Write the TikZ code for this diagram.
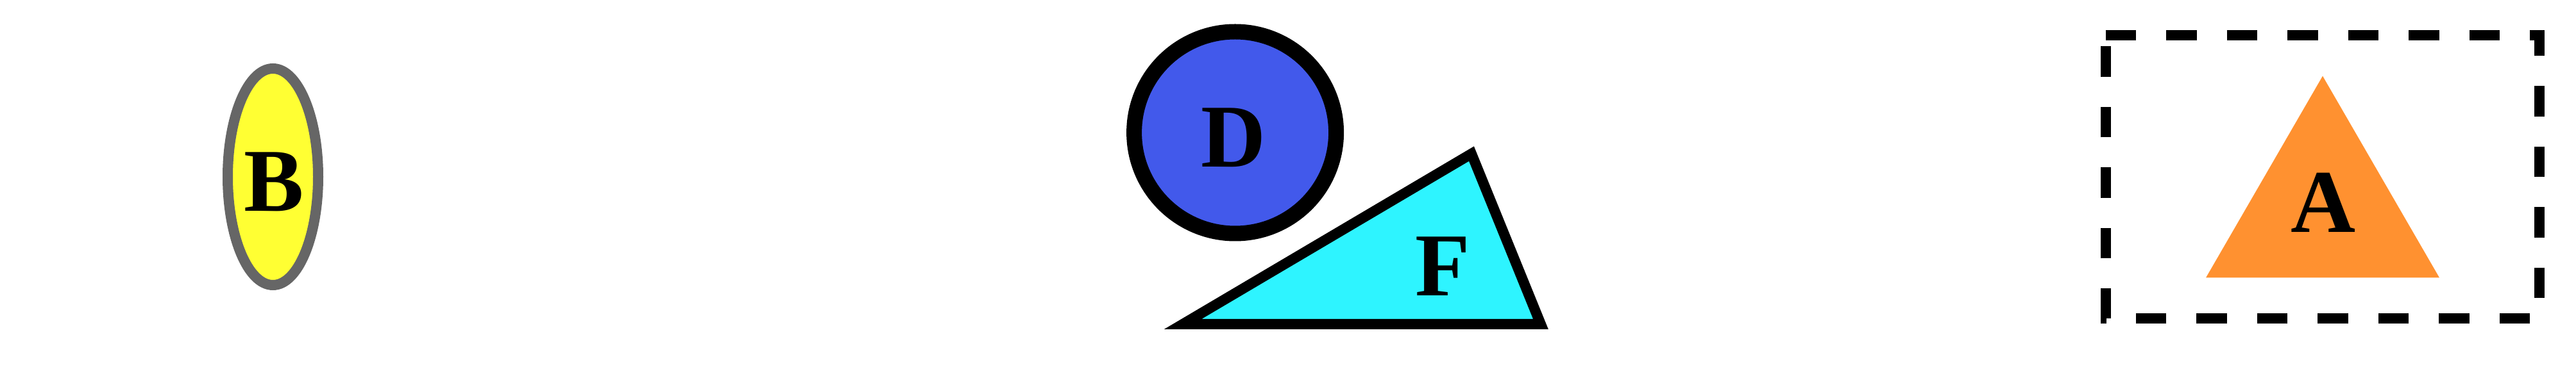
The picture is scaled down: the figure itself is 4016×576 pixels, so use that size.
\documentclass[tikz,border=0pt]{standalone}
\usepackage{fontspec}
\setmainfont{Liberation Serif}
\usetikzlibrary{shapes.geometric}
\definecolor{byellow}{RGB}{255,255,51}
\definecolor{bgray}{RGB}{102,102,102}
\definecolor{dblue}{RGB}{66,89,235}
\definecolor{fcyan}{RGB}{46,244,255}
\definecolor{aorange}{RGB}{255,145,48}
\begin{document}
\begin{tikzpicture}[x=0.25pt,y=-0.25pt,
  lbl/.style={inner sep=0pt, anchor=base, font=\fontsize{35}{42}\selectfont\bfseries},
  ellB/.style={ellipse, draw=bgray, fill=byellow, line width=4pt, inner sep=0pt, minimum width=35.25pt, minimum height=84.5pt},
  circD/.style={circle, draw=black, fill=dblue, line width=6pt, inner sep=0pt, minimum size=78.75pt},
  triF/.style={draw=black, fill=fcyan, line width=4pt, line join=miter},
  triA/.style={fill=aorange},
  boxA/.style={draw=black, line width=4pt, dash pattern=on 11.875pt off 11.75pt, line join=miter}]
\useasboundingbox (0,0) rectangle (4016,576);
% B ellipse
\node[ellB] (B) at (425.5,276) {};
\node[lbl] (Bl) at (427,330) {B};
% D circle
\node[circD] (D) at (1925.6,207) {};
\node[lbl] (Dl) at (1923,261) {D};
% F triangle
\coordinate (F1) at (1844,506);
\coordinate (F2) at (2402,506);
\coordinate (F3) at (2294,240);
\draw[triF] (F1) -- (F2) -- (F3) -- cycle;
\node[lbl] (Fl) at (2249,462) {F};
% dashed box
\coordinate (K1) at (3282.5,54.6);
\coordinate (K2) at (3959,54.6);
\coordinate (K3) at (3959,497.5);
\coordinate (K4) at (3282.5,497.5);
\draw[boxA] (K1) -- (K2) -- (K3) -- (K4) -- cycle;
% A triangle
\coordinate (A1) at (3621,118.7);
\coordinate (A2) at (3439,433.5);
\coordinate (A3) at (3803,433.5);
\fill[triA] (A1) -- (A2) -- (A3) -- cycle;
\node[lbl] (Al) at (3621.7,363) {A};
\end{tikzpicture}
\end{document}
